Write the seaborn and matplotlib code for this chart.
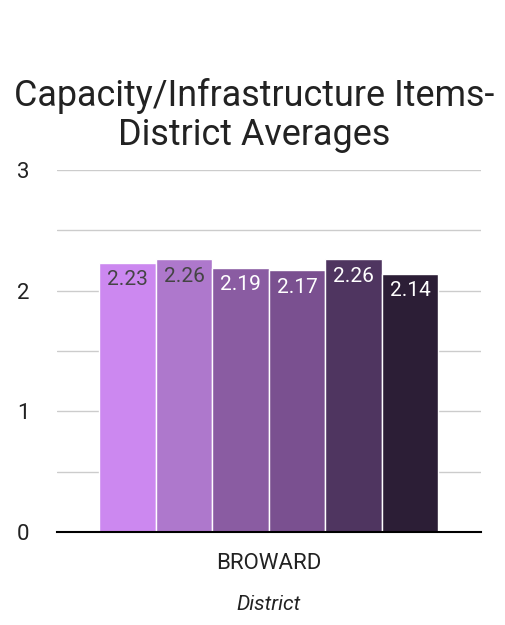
import matplotlib
matplotlib.use("Agg")
import matplotlib.pyplot as plt
import seaborn as sns
import pandas as pd

# data
district = "BROWARD"
items = ["Item 1", "Item 2", "Item 3", "Item 4", "Item 5", "Item 6"]
averages = [2.23, 2.26, 2.19, 2.17, 2.26, 2.14]
bar_colors = ["#cc88f0", "#ae78cc", "#8a5ca2", "#7a5090", "#4f3560", "#2c1e36"]
label_colors = ["#444444", "#444444", "white", "white", "white", "white"]

df = pd.DataFrame({"District": [district] * len(items), "Item": items, "Average": averages})

sns.set_style("white")
plt.rcParams["font.family"] = ["Roboto", "DejaVu Sans"]

fig = plt.figure(figsize=(5.05, 6.25), dpi=100)
ax = fig.add_axes([0.113, 0.149, 0.839, 0.579])

sns.barplot(data=df, x="District", y="Average", hue="Item", palette=bar_colors,
            width=0.8, edgecolor="white", linewidth=1, saturation=1,
            legend=False, ax=ax)

for cont, col in zip(ax.containers, label_colors):
    ax.bar_label(cont, fmt="%.2f", padding=-19, color=col, fontsize=15)

ax.set_ylim(0, 3)
ax.set_xlim(-0.5, 0.5)
ax.set_yticks([0, 1, 2, 3])
ax.set_yticks([0.5, 1.5, 2.5], minor=True)
ax.grid(axis="y", which="both", color="#cccccc", linewidth=1)
ax.set_axisbelow(True)
for s in ["top", "right", "left"]:
    ax.spines[s].set_visible(False)
ax.spines["bottom"].set_color("black")
ax.spines["bottom"].set_linewidth(1.5)
ax.tick_params(axis="y", which="both", length=0, pad=20, labelsize=16, labelcolor="#222222")
ax.tick_params(axis="x", length=0, pad=15, labelsize=16, labelcolor="#222222")
ax.set_ylabel("")
ax.set_xlabel("District", fontstyle="italic", fontsize=15, color="#222222", labelpad=15)
ax.set_title("Capacity/Infrastructure Items-\nDistrict Averages", fontsize=25.8,
             color="#222222", pad=18, linespacing=1.1, x=0.466)

fig.savefig("out.png", dpi=100)
